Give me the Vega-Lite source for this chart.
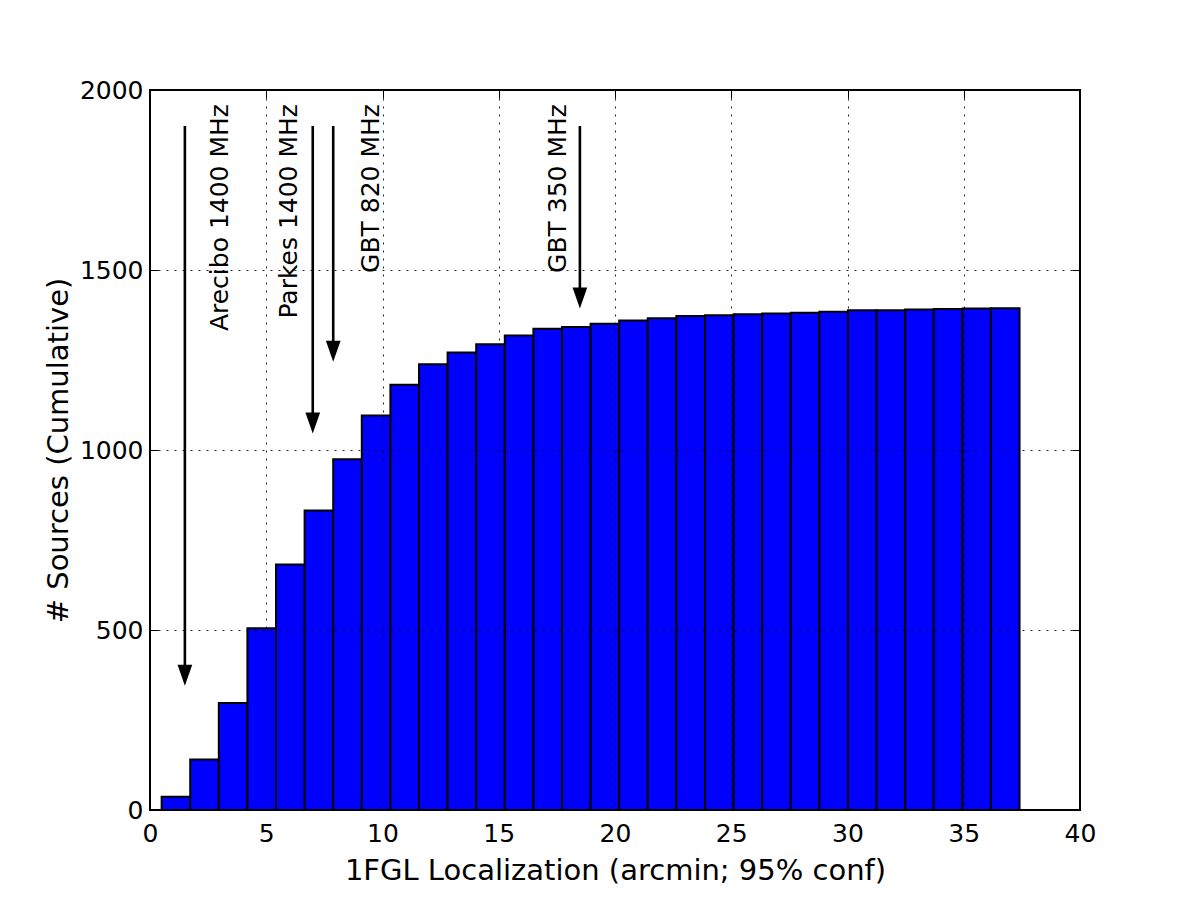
{
  "$schema": "https://vega.github.io/schema/vega-lite/v6.json",
  "width": 930,
  "height": 720,
  "autosize": "none",
  "padding": {"left": 150, "top": 90, "right": 120, "bottom": 90},
  "background": "white",
  "datasets": {
    "bins": [
      {"start": 0.5, "end": 1.73, "count": 37},
      {"start": 1.73, "end": 2.96, "count": 140},
      {"start": 2.96, "end": 4.19, "count": 297},
      {"start": 4.19, "end": 5.42, "count": 505},
      {"start": 5.42, "end": 6.65, "count": 682},
      {"start": 6.65, "end": 7.88, "count": 832},
      {"start": 7.88, "end": 9.11, "count": 974},
      {"start": 9.11, "end": 10.34, "count": 1096},
      {"start": 10.34, "end": 11.57, "count": 1181},
      {"start": 11.57, "end": 12.8, "count": 1238},
      {"start": 12.8, "end": 14.03, "count": 1271},
      {"start": 14.03, "end": 15.26, "count": 1294},
      {"start": 15.26, "end": 16.49, "count": 1318},
      {"start": 16.49, "end": 17.72, "count": 1337},
      {"start": 17.72, "end": 18.95, "count": 1342},
      {"start": 18.95, "end": 20.18, "count": 1351},
      {"start": 20.18, "end": 21.41, "count": 1360},
      {"start": 21.41, "end": 22.64, "count": 1366},
      {"start": 22.64, "end": 23.87, "count": 1372},
      {"start": 23.87, "end": 25.1, "count": 1374},
      {"start": 25.1, "end": 26.33, "count": 1377},
      {"start": 26.33, "end": 27.56, "count": 1379},
      {"start": 27.56, "end": 28.79, "count": 1381},
      {"start": 28.79, "end": 30.02, "count": 1384},
      {"start": 30.02, "end": 31.25, "count": 1388},
      {"start": 31.25, "end": 32.48, "count": 1388},
      {"start": 32.48, "end": 33.71, "count": 1390},
      {"start": 33.71, "end": 34.94, "count": 1392},
      {"start": 34.94, "end": 36.17, "count": 1393},
      {"start": 36.17, "end": 37.4, "count": 1394}
    ],
    "surveys": [
      {"name": "Arecibo 1400 MHz", "x": 1.5, "top": 1900, "tip": 345, "label_x": 3.35, "label_y": 1961},
      {"name": "Parkes 1400 MHz", "x": 7.0, "top": 1900, "tip": 1046, "label_x": 6.31, "label_y": 1961},
      {"name": "GBT 820 MHz", "x": 7.88, "top": 1900, "tip": 1245, "label_x": 9.85, "label_y": 1961},
      {"name": "GBT 350 MHz", "x": 18.49, "top": 1900, "tip": 1393, "label_x": 17.89, "label_y": 1961}
    ]
  },
  "resolve": {"axis": {"x": "independent", "y": "independent"}},
  "layer": [
    {
      "data": {"name": "bins"},
      "mark": {"type": "rect", "fill": "#0000ff", "stroke": "black", "strokeWidth": 2},
      "encoding": {
        "x": {
          "field": "start",
          "type": "quantitative",
          "scale": {"domain": [0, 40], "nice": false},
          "axis": {
            "orient": "bottom",
            "values": [0, 5, 10, 15, 20, 25, 30, 35, 40],
            "zindex": 2,
            "ticks": false,
            "tickSize": 0,
            "labelPadding": 11.5,
            "title": "1FGL Localization (arcmin; 95% conf)",
            "titleY": 69,
            "titleBaseline": "alphabetic"
          }
        },
        "x2": {"field": "end"},
        "y": {
          "field": "count",
          "type": "quantitative",
          "scale": {"domain": [0, 2000], "nice": false},
          "axis": {
            "orient": "left",
            "values": [0, 500, 1000, 1500, 2000],
            "format": "d",
            "zindex": 2,
            "ticks": false,
            "tickSize": 0,
            "labelPadding": 7,
            "title": "# Sources (Cumulative)",
            "titleX": -83,
            "titleY": 360,
            "titleAngle": 270,
            "titleAlign": "center",
            "titleBaseline": "alphabetic"
          }
        },
        "y2": {"datum": 0}
      }
    },
    {
      "data": {"name": "surveys"},
      "mark": {"type": "rule", "color": "black", "strokeWidth": 2.6, "y2Offset": -15},
      "encoding": {
        "x": {
          "field": "x",
          "type": "quantitative",
          "axis": {"orient": "top", "labels": false, "grid": false, "title": null, "offset": -8, "tickSize": 8, "values": [0, 5, 10, 15, 20, 25, 30, 35, 40]}
        },
        "y": {
          "field": "top",
          "type": "quantitative",
          "axis": {"orient": "right", "labels": false, "grid": false, "title": null, "offset": -8, "tickSize": 8, "values": [0, 500, 1000, 1500, 2000]}
        },
        "y2": {"field": "tip"}
      }
    },
    {
      "data": {"name": "surveys"},
      "mark": {
        "type": "point",
        "shape": "M-0.35,-1L0.35,-1L0,0Z",
        "size": 1764,
        "filled": true,
        "color": "black",
        "opacity": 1
      },
      "encoding": {
        "x": {
          "field": "x",
          "type": "quantitative",
          "axis": {"orient": "bottom", "labels": false, "grid": false, "title": null, "offset": -8, "tickSize": 8, "values": [0, 5, 10, 15, 20, 25, 30, 35, 40]}
        },
        "y": {
          "field": "tip",
          "type": "quantitative",
          "axis": {"orient": "left", "labels": false, "grid": false, "title": null, "offset": -8, "tickSize": 8, "values": [0, 500, 1000, 1500, 2000]}
        }
      }
    },
    {
      "data": {"name": "surveys"},
      "mark": {
        "type": "text",
        "angle": 270,
        "align": "right",
        "baseline": "alphabetic",
        "font": "DejaVu Sans",
        "fontSize": 25,
        "color": "black"
      },
      "encoding": {
        "x": {"field": "label_x", "type": "quantitative", "axis": null},
        "y": {"field": "label_y", "type": "quantitative", "axis": null},
        "text": {"field": "name"}
      }
    }
  ],
  "config": {
    "font": "DejaVu Sans",
    "view": {"stroke": "black", "strokeWidth": 2},
    "axis": {
      "domain": false,
      "zindex": 2,
      "labelFont": "DejaVu Sans",
      "labelFontSize": 25,
      "labelColor": "black",
      "labelFlush": false,
      "titleFont": "DejaVu Sans",
      "titleFontSize": 29,
      "titleFontWeight": "normal",
      "titleColor": "black",
      "tickColor": "black",
      "tickWidth": 1,
      "grid": true,
      "gridColor": "black",
      "gridWidth": 1,
      "gridDash": [2, 6],
      "gridOpacity": 0.85
    }
  }
}
